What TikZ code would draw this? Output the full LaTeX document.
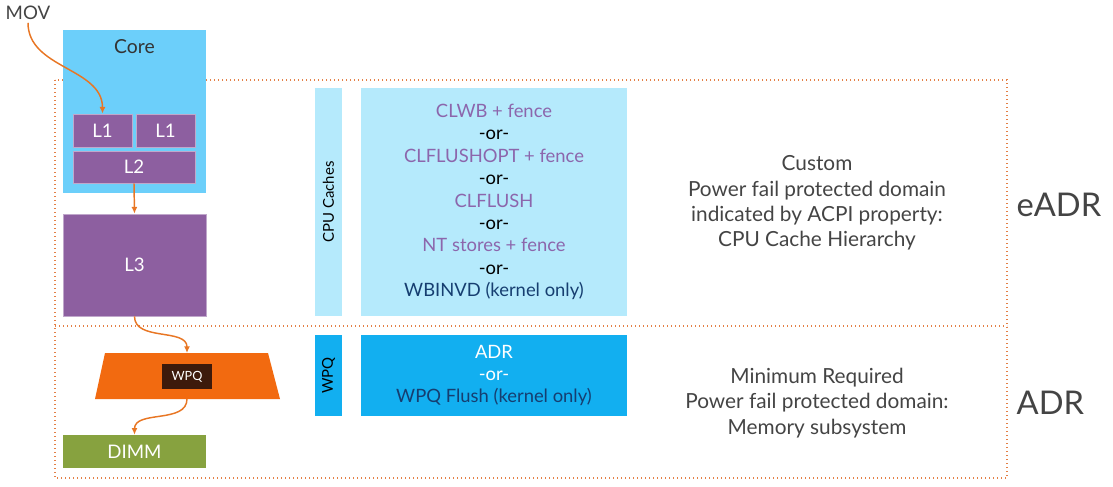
\documentclass[tikz,border=0pt]{standalone}
\usepackage{fontspec}
\setmainfont{Lato}
\usetikzlibrary{arrows.meta}

\definecolor{coreblue}{RGB}{108,207,250}
\definecolor{cachepurple}{RGB}{141,95,160}
\definecolor{wpqorange}{RGB}{242,106,16}
\definecolor{wpqdark}{RGB}{61,26,11}
\definecolor{dimmgreen}{RGB}{135,162,63}
\definecolor{paleblue}{RGB}{181,234,252}
\definecolor{strongblue}{RGB}{18,175,240}
\definecolor{cmdpurple}{RGB}{140,102,172}
\definecolor{darkblue}{RGB}{22,62,112}
\definecolor{labelgray}{RGB}{68,68,68}
\definecolor{dotorange}{RGB}{228,128,70}
\definecolor{floworange}{RGB}{232,118,36}

\tikzset{
  block/.style={inner sep=0pt, text=white, font=\fontsize{14}{16}\selectfont},
  cache/.style={block, fill=cachepurple, draw=cachepurple!55!white, line width=0.6pt},
  flow/.style={draw=floworange, line width=1.1pt, -{Latex[length=5pt,width=4.5pt]}},
  pfdomain/.style={draw=dotorange, line width=1pt, dotted},
  bar/.style={inner sep=0pt, rotate=90, minimum height=20.25pt, font=\fontsize{11.2}{13}\selectfont},
  methods/.style={inner sep=0pt, align=center, minimum width=199.5pt},
  note/.style={align=center, text=labelgray, font=\fontsize{15.6}{19}\selectfont},
  level/.style={anchor=west, text=labelgray, font=\fontsize{24.5}{28}\selectfont}
}

\begin{document}
\begin{tikzpicture}[x=0.75pt,y=-0.75pt]
    \useasboundingbox (0,0) rectangle (1113,486);

    % Power fail protected domains
    \draw[pfdomain] (55,80) rectangle (1007,478);
    \draw[pfdomain] (55,326) -- (1007,326);

    % Core with L1 and L2
    \node[block, fill=coreblue, minimum width=107.25pt, minimum height=122.25pt,
          label={[anchor=north, yshift=-4pt, font=\fontsize{14.5}{16}\selectfont, text=black!80]north:Core}] (core) at (134.5,111.5) {};
    \node[cache, minimum width=44.25pt, minimum height=24.75pt] (l1a) at (102.5,130.5) {L1};
    \node[cache, minimum width=44.25pt, minimum height=24.75pt] (l1b) at (165.5,130.5) {L1};
    \node[cache, minimum width=91.5pt, minimum height=24pt] (l2) at (134,167) {L2};

    % L3, WPQ and DIMM
    \node[cache, minimum width=107.25pt, minimum height=76.5pt] (l3) at (134.5,265) {L3};
    \fill[wpqorange] (105,353) -- (268,353) -- (280,399) -- (95,399) -- cycle;
    \coordinate (traptop) at (187,353);
    \coordinate (trapbot) at (187,399);
    \node[block, fill=wpqdark, minimum width=37.5pt, minimum height=18.75pt,
          font=\fontsize{9.5}{11}\selectfont] (wpq) at (187,376.5) {WPQ};
    \node[block, fill=dimmgreen, minimum width=107.25pt, minimum height=24.75pt] (dimm) at (134.5,451.5) {DIMM};

    % Data path
    \node[text=labelgray, inner sep=2pt, font=\fontsize{14}{16}\selectfont] (mov) at (28,13) {MOV};
    \draw[flow] (mov.south) to[out=-90,in=90] (l1a.north);
    \draw[flow] (l2.south) -- (l3.north);
    \draw[flow] (l3.south) to[out=-90,in=90] (traptop);
    \draw[flow] (trapbot) to[out=-90,in=90] (dimm.north);

    % Flush methods
    \node[bar, fill=paleblue, minimum width=171pt] (cpubar) at (328.5,202) {CPU Caches};
    \node[methods, fill=paleblue, minimum height=171pt, text=cmdpurple,
          font=\fontsize{13.8}{16.8}\selectfont] (cpubox) at (494,202)
         {CLWB + fence\\ \textcolor{black}{-or-}\\ CLFLUSHOPT + fence\\ \textcolor{black}{-or-}\\ CLFLUSH\\
          \textcolor{black}{-or-}\\ NT stores + fence\\ \textcolor{black}{-or-}\\ \textcolor{darkblue}{WBINVD (kernel only)}};
    \node[bar, fill=strongblue, minimum width=60.75pt] (wpqbar) at (328.5,375.5) {WPQ};
    \node[methods, fill=strongblue, minimum height=60.75pt, text=white,
          font=\fontsize{13.8}{16.5}\selectfont] (adrbox) at (494,375.5)
         {ADR\\ -or-\\ \textcolor{darkblue}{WPQ Flush (kernel only)}};

    % Domain descriptions
    \node[note] (custom) at (817,203) {Custom\\ Power fail protected domain\\ indicated by ACPI property:\\ CPU Cache Hierarchy};
    \node[note] (minimum) at (817,403) {Minimum Required\\ Power fail protected domain:\\ Memory subsystem};
    \node[level] (eadr) at (1012,205) {eADR};
    \node[level] (adr) at (1012,403) {ADR};
\end{tikzpicture}
\end{document}
